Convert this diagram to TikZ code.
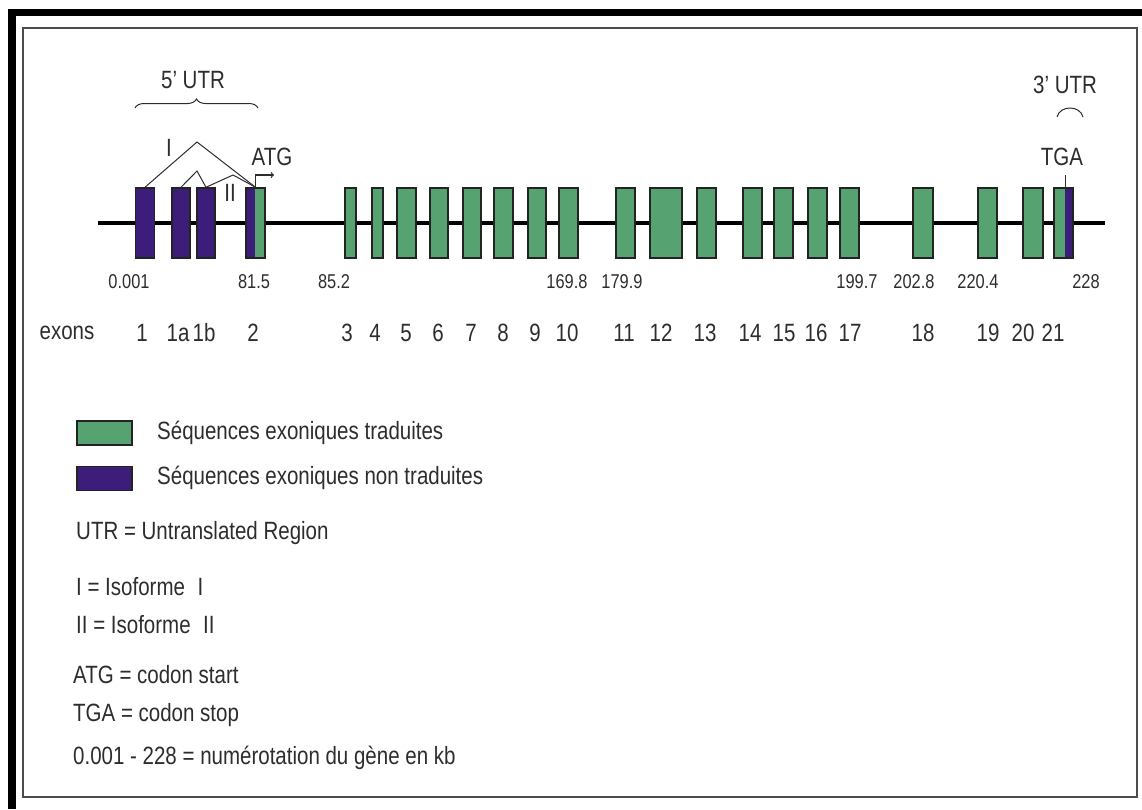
\documentclass[tikz,border=0pt]{standalone}
\usepackage{fontspec}
\setmainfont{Liberation Sans}[FakeStretch=0.82]
\usetikzlibrary{arrows,decorations.pathreplacing}
\definecolor{ex_green}{RGB}{86, 163, 113}
\definecolor{ex_purple}{RGB}{60, 30, 122}
\definecolor{ex_edge}{RGB}{35, 35, 35}
\definecolor{txt}{RGB}{45, 45, 45}
\tikzstyle{gx}=[rectangle,fill=ex_green,draw=ex_edge,
  line width=1.5pt,inner sep=0pt,minimum width=19pt,minimum height=70pt]
\tikzstyle{px}=[gx,fill=ex_purple]
\tikzstyle{pgx}=[px,path picture={\fill[ex_green]
  ([xshift=-10pt]path picture bounding box.north east) rectangle (path picture bounding box.south east);}]
\tikzstyle{gpx}=[gx,path picture={\fill[ex_purple]
  ([xshift=-8pt]path picture bounding box.north east) rectangle (path picture bounding box.south east);}]
\tikzstyle{tx}=[inner sep=0pt,text=txt,font=\fontsize{25pt}{30pt}\selectfont]
\tikzstyle{kb}=[inner sep=0pt,text=txt,font=\fontsize{20pt}{24pt}\selectfont]
\tikzstyle{splice}=[draw=txt,line width=1pt]

\begin{document}
\begin{tikzpicture}[x=1pt,y=-1pt]
        \useasboundingbox (0,0) rectangle (1142,809);
        % frame
        \fill[black] (8,9) rectangle (1142,16);
        \fill[black] (8,9) rectangle (16,809);
        \draw[gray!60!black,line width=2pt] (23,28) rectangle (1137,797);
        % gene
        \coordinate (5end) at (98,223);
        \coordinate (3end) at (1105,223);
        \draw[line width=4pt] (5end) -- (3end);
        \node[style=px] (1) at (145,223) {};
        \node[style=px,minimum width=18pt] (1a) at (181,223) {};
        \node[style=px,minimum width=18pt] (1b) at (206,223) {};
        \node[style=pgx] (2) at (255.5,223) {};
        \node[style=gx,minimum width=11pt] (3) at (350.5,223) {};
        \node[style=gx,minimum width=11pt] (4) at (377.5,223) {};
        \node[style=gx] (5) at (406.5,223) {};
        \node[style=gx,minimum width=18pt] (6) at (439,223) {};
        \node[style=gx,minimum width=18pt] (7) at (472,223) {};
        \node[style=gx] (8) at (503.5,223) {};
        \node[style=gx,minimum width=18pt] (9) at (537,223) {};
        \node[style=gx] (10) at (568.5,223) {};
        \node[style=gx] (11) at (625.5,223) {};
        \node[style=gx,minimum width=32pt] (12) at (666,223) {};
        \node[style=gx] (13) at (706.5,223) {};
        \node[style=gx] (14) at (752.5,223) {};
        \node[style=gx] (15) at (783.5,223) {};
        \node[style=gx] (16) at (817.5,223) {};
        \node[style=gx] (17) at (849.5,223) {};
        \node[style=gx,minimum width=20pt] (18) at (923,223) {};
        \node[style=gx] (19) at (987.5,223) {};
        \node[style=gx,minimum width=20pt] (20) at (1033,223) {};
        \node[style=gpx] (21) at (1063.5,223) {};
        % splicing
        \coordinate (pI) at (197,142);
        \coordinate (p1) at (197,171);
        \coordinate (pII) at (233,175);
        \draw[style=splice] (1.north) -- (pI) -- (2.north);
        \draw[style=splice] (1a.north) -- (p1) -- (1b.north);
        \draw[style=splice] (1b.north) -- (pII) -- (2.north);
        \node[style=tx] (iso1) at (169,148) {I};
        \node[style=tx] (iso2) at (230,193) {II};
        % start and stop
        \coordinate (atg) at (274,175);
        \draw[->,line width=1.2pt,txt] (2.north) |- (atg);
        \node[style=tx] (start) at (272,157) {ATG};
        \coordinate (tgatop) at (1065,175);
        \coordinate (tgabot) at (1065,188);
        \draw[line width=1pt,txt] (tgatop) -- (tgabot);
        \node[style=tx] (stop) at (1062,157) {TGA};
        % UTR
        \node[style=tx] (utr5) at (193,80) {5' UTR};
        \coordinate (b5l) at (135,108);
        \coordinate (b5r) at (258,108);
        \draw[txt,line width=1pt,decorate,decoration={brace,amplitude=9pt}] (b5l) -- (b5r);
        \node[style=tx] (utr3) at (1065,85) {3' UTR};
        \coordinate (b3l) at (1057,117);
        \coordinate (b3r) at (1083,117);
        \draw[txt,line width=1pt] (b3l) .. controls (1060,105) and (1080,105) .. (b3r);
        % kb
        \node[style=kb] (k1) at (129,282) {0.001};
        \node[style=kb] (k2) at (254,282) {81.5};
        \node[style=kb] (k3) at (334,282) {85.2};
        \node[style=kb] (k4) at (567,282) {169.8};
        \node[style=kb] (k5) at (622,282) {179.9};
        \node[style=kb] (k6) at (857,282) {199.7};
        \node[style=kb] (k7) at (914,282) {202.8};
        \node[style=kb] (k8) at (978,282) {220.4};
        \node[style=kb] (k9) at (1086,282) {228};
        % exon numbers
        \node[style=tx] (exons) at (67,333) {exons};
        \node[style=tx] (n1) at (142,333) {1};
        \node[style=tx] (n1a) at (178,333) {1a};
        \node[style=tx] (n1b) at (204,333) {1b};
        \node[style=tx] (n2) at (253,333) {2};
        \node[style=tx] (n3) at (347,333) {3};
        \node[style=tx] (n4) at (375,333) {4};
        \node[style=tx] (n5) at (406,333) {5};
        \node[style=tx] (n6) at (438,333) {6};
        \node[style=tx] (n7) at (471,333) {7};
        \node[style=tx] (n8) at (503,333) {8};
        \node[style=tx] (n9) at (535,333) {9};
        \node[style=tx] (n10) at (567,333) {10};
        \node[style=tx] (n11) at (624,333) {11};
        \node[style=tx] (n12) at (661,333) {12};
        \node[style=tx] (n13) at (705,333) {13};
        \node[style=tx] (n14) at (750,333) {14};
        \node[style=tx] (n15) at (784,333) {15};
        \node[style=tx] (n16) at (816,333) {16};
        \node[style=tx] (n17) at (850,333) {17};
        \node[style=tx] (n18) at (923,333) {18};
        \node[style=tx] (n19) at (988,333) {19};
        \node[style=tx] (n20) at (1023,333) {20};
        \node[style=tx] (n21) at (1053,333) {21};
        % legend
        \node[style=gx,minimum width=55pt,minimum height=24pt] (lg) at (104.5,433) {};
        \node[style=px,minimum width=55pt,minimum height=24pt] (lp) at (104.5,478.5) {};
        \node[style=tx,anchor=west] (tlg) at (157,433) {Séquences exoniques traduites};
        \node[style=tx,anchor=west] (tlp) at (157,478) {Séquences exoniques non traduites};
        \node[style=tx,anchor=west] (t1) at (76,533) {UTR = Untranslated Region};
        \node[style=tx,anchor=west] (t2) at (76,587) {I = Isoforme\enspace I};
        \node[style=tx,anchor=west] (t3) at (76,625) {II = Isoforme\enspace II};
        \node[style=tx,anchor=west] (t4) at (73,675) {ATG = codon start};
        \node[style=tx,anchor=west] (t5) at (73,715) {TGA = codon stop};
        \node[style=tx,anchor=west] (t6) at (73,758) {0.001 - 228 = numérotation du gène en kb};
    \end{tikzpicture}
\end{document}
